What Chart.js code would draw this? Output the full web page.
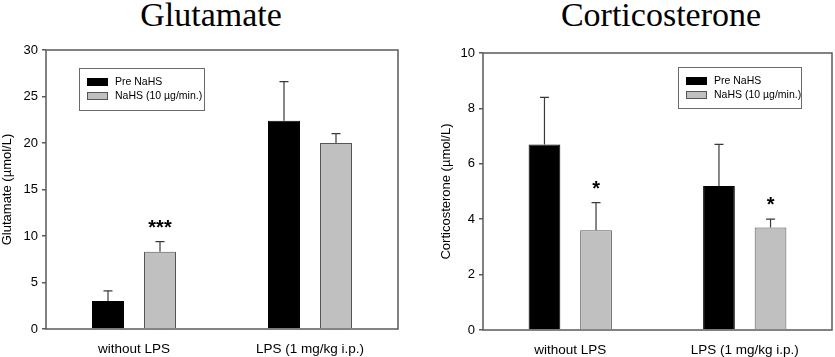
<!DOCTYPE html>
<html>
<head>
<meta charset="utf-8">
<script src="https://cdn.jsdelivr.net/npm/chart.js@4.4.0/dist/chart.umd.min.js"></script>
<style>
  body { margin: 0; background: #fff; width: 835px; height: 357px; overflow: hidden; position: relative; }
  .panel { position: absolute; top: 0; height: 357px; }
  .ttl { position: absolute; top: -4px; font-family: "Liberation Serif", "Times New Roman", serif; font-size: 34px; color: #000; white-space: nowrap; transform: translateX(-50%); }
</style>
</head>
<body>
<div class="ttl" style="left:211px">Glutamate</div>
<div class="ttl" style="left:661px">Corticosterone</div>
<div class="panel" style="left:0;width:417px"><canvas id="glutChart" width="417" height="357"></canvas></div>
<div class="panel" style="left:417px;width:418px"><canvas id="cortChart" width="418" height="357"></canvas></div>
<script>
// ---------------------------
// Data
// ---------------------------
const categories = ["without LPS", "LPS (1 mg/kg i.p.)"];
const seriesNames = ["Pre NaHS", "NaHS (10 \u00b5g/min.)"];

// Glutamate (umol/L)
const glutPre = [3.0, 22.4];
const glutPreErr = [1.1, 4.2];
const glutNaHS = [8.3, 20.0];
const glutNaHSErr = [1.1, 1.0];
const glutSig = ["***", ""];

// Corticosterone (umol/L)
const cortPre = [6.7, 5.2];
const cortPreErr = [1.7, 1.5];
const cortNaHS = [3.6, 3.7];
const cortNaHSErr = [1.0, 0.3];
const cortSig = ["*", "*"];

const glutTicks = [0, 5, 10, 15, 20, 25, 30];
const cortTicks = [0, 2, 4, 6, 8, 10];

const sans = "'Liberation Sans', Arial, sans-serif";

// ---------------------------
// Plugins: frame, error bars, stars, legend box
// ---------------------------
const framePlugin = {
    id: "frame",
    beforeDatasetsDraw(chart) {
        let a = chart.chartArea;
        let ctx = chart.ctx;
        ctx.save();
        ctx.strokeStyle = "#5a5a5a";
        ctx.lineWidth = 1.5;
        ctx.strokeRect(a.left, a.top, a.right - a.left, a.bottom - a.top);
        ctx.restore();
    }
};

const errorPlugin = {
    id: "errbars",
    afterDatasetsDraw(chart) {
        let ctx = chart.ctx;
        let y = chart.scales.y;
        ctx.save();
        chart.data.datasets.forEach(function (ds, di) {
            let meta = chart.getDatasetMeta(di);
            meta.data.forEach(function (bar, i) {
                let top = y.getPixelForValue(ds.data[i] + ds.err[i]);
                ctx.strokeStyle = "#3a3a3a";
                ctx.lineWidth = 1.2;
                ctx.beginPath();
                ctx.moveTo(bar.x, bar.y);
                ctx.lineTo(bar.x, top);
                ctx.moveTo(bar.x - 4.5, top);
                ctx.lineTo(bar.x + 4.5, top);
                ctx.stroke();
                if (ds.sig && ds.sig[i]) {
                    ctx.fillStyle = "#000";
                    ctx.font = "bold 20px " + sans;
                    ctx.textAlign = "center";
                    ctx.textBaseline = "alphabetic";
                    ctx.fillText(ds.sig[i], bar.x, top - 8);
                }
            });
        });
        ctx.restore();
    }
};

const boxLegendPlugin = {
    id: "boxLegend",
    afterDraw(chart, args, opts) {
        let a = chart.chartArea;
        let ctx = chart.ctx;
        let bx = opts.fromRight ? a.right - opts.dx - opts.w : a.left + opts.dx;
        let by = a.top + opts.dy;
        ctx.save();
        ctx.strokeStyle = "#6a6a6a";
        ctx.lineWidth = 1;
        ctx.strokeRect(bx + 0.5, by + 0.5, opts.w, opts.h);
        chart.data.datasets.forEach(function (ds, i) {
            let ry = by + 10 + i * 14;
            ctx.fillStyle = ds.backgroundColor;
            ctx.fillRect(bx + 8, ry, 21, 8);
            ctx.strokeStyle = ds.borderColor;
            ctx.strokeRect(bx + 8.5, ry + 0.5, 20, 7);
            ctx.fillStyle = "#000";
            ctx.font = "10.5px " + sans;
            ctx.textAlign = "left";
            ctx.textBaseline = "middle";
            ctx.fillText(ds.label, bx + 36, ry + 4.5);
        });
        ctx.restore();
    }
};

function makeChart(id, pre, preErr, nahs, nahsErr, sig, ticks, yTitle, pad, yWidth, legendOpts) {
    let ctx = document.getElementById(id).getContext("2d");
    return new Chart(ctx, {
        type: "bar",
        data: {
            labels: categories,
            datasets: [{
                label: seriesNames[0],
                data: pre,
                err: preErr,
                backgroundColor: "#000000",
                borderColor: "#000000",
                borderWidth: 1,
                barPercentage: 0.615,
                categoryPercentage: 0.591
            }, {
                label: seriesNames[1],
                data: nahs,
                err: nahsErr,
                sig: sig,
                backgroundColor: "#c0c0c0",
                borderColor: "#555555",
                borderWidth: 1,
                barPercentage: 0.615,
                categoryPercentage: 0.591
            }]
        },
        options: {
            responsive: false,
            animation: false,
            devicePixelRatio: 1,
            layout: { padding: pad },
            plugins: {
                legend: { display: false },
                tooltip: { enabled: false },
                boxLegend: legendOpts
            },
            scales: {
                x: {
                    grid: { display: false },
                    border: { display: false },
                    ticks: { color: "#000", font: { family: sans, size: 13.5 }, padding: 4 },
                    afterFit: function (s) { s.height = 357 - pad.top - pad.bottom - pad.area; }
                },
                y: {
                    min: ticks[0],
                    max: ticks[ticks.length - 1],
                    afterBuildTicks: function (s) { s.ticks = ticks.map(function (v) { return { value: v }; }); },
                    grid: { display: true, drawOnChartArea: false, drawTicks: true, tickLength: 4, color: "#5a5a5a", lineWidth: 1.5 },
                    border: { display: false },
                    ticks: { color: "#000", font: { family: sans, size: 13 }, padding: 4 },
                    title: { display: true, text: yTitle, color: "#000", font: { family: sans, size: 13 }, padding: { top: 0, bottom: 0 } },
                    afterFit: function (s) { s.width = yWidth; }
                }
            }
        },
        plugins: [framePlugin, errorPlugin, boxLegendPlugin]
    });
}

makeChart("glutChart", glutPre, glutPreErr, glutNaHS, glutNaHSErr, glutSig, glutTicks,
    "Glutamate (\u00b5mol/L)",
    { top: 50, right: 19, bottom: 0, left: 0, area: 279 }, 46,
    { dx: 33, dy: 18, w: 125, h: 42, fromRight: false });

makeChart("cortChart", cortPre, cortPreErr, cortNaHS, cortNaHSErr, cortSig, cortTicks,
    "Corticosterone (\u00b5mol/L)",
    { top: 53, right: 3, bottom: 0, left: 22, area: 277 }, 44,
    { dx: 31, dy: 14, w: 123, h: 41, fromRight: true });
</script>
</body>
</html>
